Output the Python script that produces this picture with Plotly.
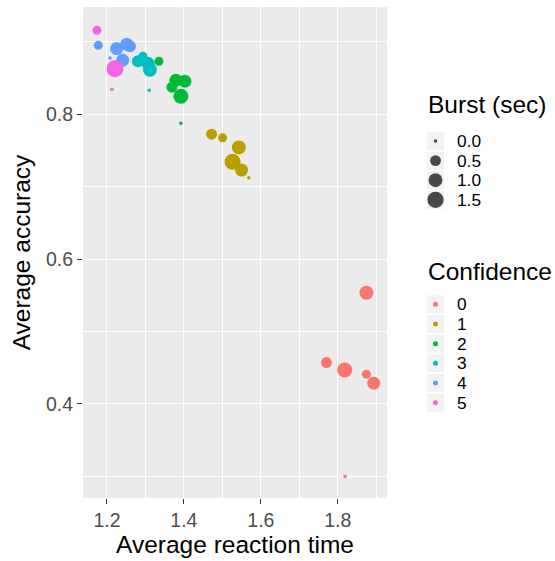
import numpy as np
import plotly.graph_objects as go

W, H = 555, 561

# ---------------- data ----------------
confidence_levels = ["0", "1", "2", "3", "4", "5"]
confidence_colors = ["#F8766D", "#B79F00", "#00BA38", "#00BFC4", "#619CFF", "#F564E3"]

rt_c0 = [1.8745, 1.7706, 1.8180, 1.8745, 1.8935, 1.8190]
acc_c0 = [0.5535, 0.4570, 0.4469, 0.4410, 0.4286, 0.2997]
burst_c0 = [1.03, 0.52, 1.23, 0.28, 0.84, 0.00]

rt_c1 = [1.4720, 1.5005, 1.5429, 1.5265, 1.5499, 1.5688]
acc_c1 = [0.7724, 0.7673, 0.7541, 0.7342, 0.7228, 0.7121]
burst_c1 = [0.52, 0.28, 1.03, 1.46, 0.84, 0.00]

rt_c2 = [1.3351, 1.3792, 1.4026, 1.3688, 1.3922, 1.3922]
acc_c2 = [0.8731, 0.8469, 0.8455, 0.8372, 0.8248, 0.7876]
burst_c2 = [0.28, 0.84, 0.84, 0.52, 1.23, 0.00]

rt_c3 = [1.2935, 1.2805, 1.3065, 1.3117, 1.3099]
acc_c3 = [0.8800, 0.8731, 0.8703, 0.8614, 0.8331]
burst_c3 = [0.28, 0.68, 0.84, 1.03, 0.00]

rt_c4 = [1.1774, 1.2078, 1.2252, 1.2512, 1.2597, 1.2408]
acc_c4 = [0.8952, 0.8777, 0.8906, 0.8966, 0.8938, 0.8745]
burst_c4 = [0.28, 0.00, 0.84, 0.84, 0.68, 0.84]

rt_c5 = [1.1740, 1.2208, 1.2130]
acc_c5 = [0.9159, 0.8627, 0.8345]
burst_c5 = [0.28, 1.70, 0.00]

burst_breaks = [0.0, 0.5, 1.0, 1.5]
burst_labels = ["0.0", "0.5", "1.0", "1.5"]

x_ticks = [1.2, 1.4, 1.6, 1.8]
y_ticks = [0.4, 0.6, 0.8]

groups = [
    (rt_c0, acc_c0, burst_c0),
    (rt_c1, acc_c1, burst_c1),
    (rt_c2, acc_c2, burst_c2),
    (rt_c3, acc_c3, burst_c3),
    (rt_c4, acc_c4, burst_c4),
    (rt_c5, acc_c5, burst_c5),
]

# ---------------- size scale (area scale, like scale_size) ----------------
all_burst = np.concatenate([np.array(g[2]) for g in groups])
B_MIN, B_MAX = all_burst.min(), all_burst.max()
D_MIN, D_MAX = 3.5, 17.0


def size_scale(v):
    v = np.asarray(v, dtype=float)
    r = np.clip((v - B_MIN) / (B_MAX - B_MIN), 0, 1)
    return D_MIN + (D_MAX - D_MIN) * np.sqrt(r)


# ---------------- layout geometry ----------------
ML, MR, MT, MB = 83, 0, 0, 63
plot_w = W - ML - MR
plot_h = H - MT - MB
panel_right_px = 387
panel_top_px = 7
x_dom = [0, (panel_right_px - ML) / plot_w]
y_dom = [0, (plot_h - panel_top_px) / plot_h]
leg_left_px = 400

fig = go.Figure()

for (xs, ys, bs), col, lev in zip(groups, confidence_colors, confidence_levels):
    fig.add_trace(go.Scatter(
        x=xs, y=ys, mode="markers",
        marker=dict(color=col, size=size_scale(bs), line=dict(width=0), opacity=1),
        name=lev, showlegend=False,
        hovertemplate="RT %{x}<br>Acc %{y}<extra>" + lev + "</extra>",
    ))

# ---------------- manual ggplot-like legends ----------------
key_x0, key_x1 = 427, 444
key_cx = (key_x0 + key_x1) / 2
label_x = 455
key_h = 18

burst_title_y = 104
burst_first = 141
burst_step = 19.6
burst_y = [burst_first + i * burst_step for i in range(len(burst_breaks))]

conf_title_y = 271
conf_first = 304.3
conf_step = 19.68
conf_y = [conf_first + i * conf_step for i in range(len(confidence_levels))]

shapes = [dict(type="rect", xref="x domain", yref="y domain", x0=0, x1=1, y0=0, y1=1,
               fillcolor="#EBEBEB", line=dict(width=0), layer="below")]
for yc in burst_y + conf_y:
    shapes.append(dict(type="rect", xref="x2", yref="y2", x0=key_x0, x1=key_x1,
                       y0=yc - key_h / 2, y1=yc + key_h / 2,
                       fillcolor="#F2F2F2", line=dict(width=0), layer="below"))

fig.add_trace(go.Scatter(
    x=[key_cx] * len(burst_breaks), y=burst_y, mode="markers",
    marker=dict(color="black", size=size_scale(burst_breaks), line=dict(width=0)),
    xaxis="x2", yaxis="y2", showlegend=False, hoverinfo="skip"))
fig.add_trace(go.Scatter(
    x=[key_cx] * len(confidence_levels), y=conf_y, mode="markers",
    marker=dict(color=confidence_colors, size=5, line=dict(width=0)),
    xaxis="x2", yaxis="y2", showlegend=False, hoverinfo="skip"))

FONT = "Liberation Sans, Arial, Helvetica, sans-serif"
TITLE_SIZE = 24.5
TEXT_SIZE = 19.5
LEG_TEXT_SIZE = 17.3

annotations = [
    dict(text="Burst (sec)", x=426, y=burst_title_y, xref="x2", yref="y2",
         xanchor="left", yanchor="middle", showarrow=False,
         font=dict(size=TITLE_SIZE, color="black", family=FONT)),
    dict(text="Confidence", x=426, y=conf_title_y, xref="x2", yref="y2",
         xanchor="left", yanchor="middle", showarrow=False,
         font=dict(size=TITLE_SIZE, color="black", family=FONT)),
]
for lab, yc in zip(burst_labels, burst_y):
    annotations.append(dict(text=lab, x=label_x, y=yc, xref="x2", yref="y2",
                            xanchor="left", yanchor="middle", showarrow=False,
                            font=dict(size=LEG_TEXT_SIZE, color="black", family=FONT)))
for lab, yc in zip(confidence_levels, conf_y):
    annotations.append(dict(text=lab, x=label_x, y=yc, xref="x2", yref="y2",
                            xanchor="left", yanchor="middle", showarrow=False,
                            font=dict(size=LEG_TEXT_SIZE, color="black", family=FONT)))

axis_common = dict(
    showgrid=True, gridcolor="white", gridwidth=1.1,
    zeroline=False, showline=False,
    ticks="outside", ticklen=5, tickwidth=1.1, tickcolor="#333333",
    tickfont=dict(size=TEXT_SIZE, color="#4D4D4D", family=FONT),
    tickformat=".1f",
)

fig.update_layout(
    width=W, height=H,
    margin=dict(l=ML, r=MR, t=MT, b=MB, pad=0, autoexpand=False),
    paper_bgcolor="white", plot_bgcolor="rgba(0,0,0,0)",
    font=dict(family=FONT, color="black"),
    showlegend=False,
    xaxis=dict(domain=x_dom, range=[1.1377, 1.928], tickmode="array", tickvals=x_ticks,
               minor=dict(tickmode="array", tickvals=[1.3, 1.5, 1.7, 1.9], showgrid=True,
                          gridcolor="white", gridwidth=0.55, ticks=""),
               title=dict(text="Average reaction time", standoff=5,
                          font=dict(size=TITLE_SIZE, color="black", family=FONT)),
               automargin=False, **axis_common),
    yaxis=dict(domain=y_dom, range=[0.270, 0.948], tickmode="array", tickvals=y_ticks,
               minor=dict(tickmode="array", tickvals=[0.3, 0.5, 0.7, 0.9], showgrid=True,
                          gridcolor="white", gridwidth=0.55, ticks=""),
               title=dict(text="Average accuracy", standoff=8,
                          font=dict(size=TITLE_SIZE, color="black", family=FONT)),
               automargin=False, **axis_common),
    xaxis2=dict(domain=[(leg_left_px - ML) / plot_w, 1], range=[leg_left_px, W],
                visible=False, fixedrange=True),
    yaxis2=dict(domain=[0, 1], range=[plot_h, 0], visible=False, fixedrange=True),
    shapes=shapes,
    annotations=annotations,
)

fig.write_html("out.html")
